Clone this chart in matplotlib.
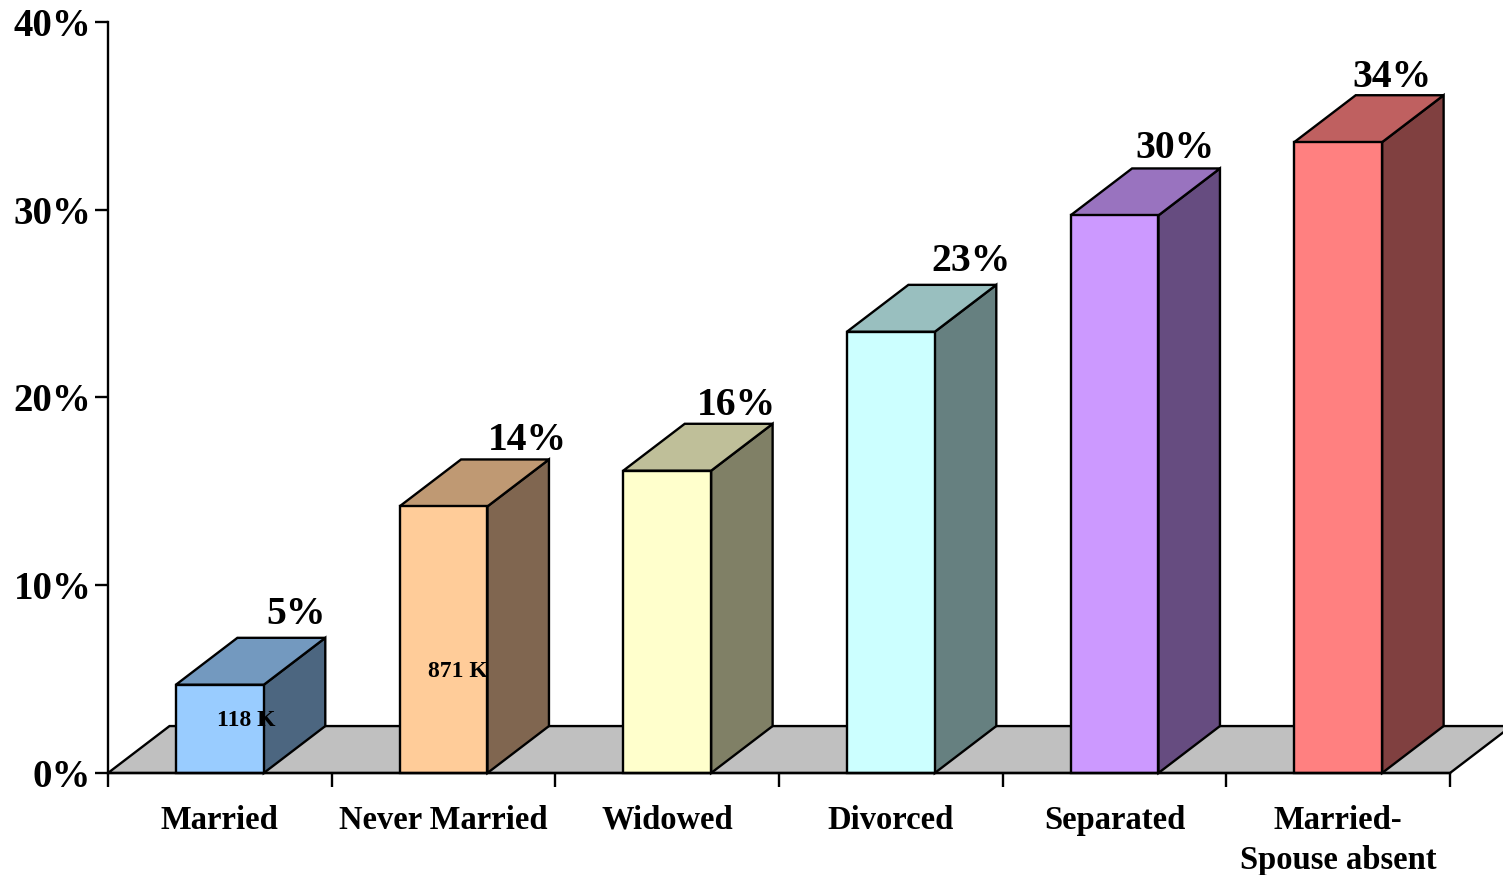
import matplotlib
matplotlib.use("Agg")
import matplotlib.pyplot as plt
from matplotlib.patches import Polygon, Rectangle

categories = ["Married", "Never Married", "Widowed", "Divorced", "Separated", "Married-\nSpouse absent"]
values = [4.7, 14.2, 16.1, 23.5, 29.7, 33.6]
value_labels = ["5%", "14%", "16%", "23%", "30%", "34%"]
inner_labels = ["118 K", "871 K"]
front_colors = ["#99CCFF", "#FFCC99", "#FFFFCC", "#CCFFFF", "#CC99FF", "#FF8080"]
top_colors = ["#7399BF", "#BF9973", "#BFBF99", "#99BFBF", "#9973BF", "#BF6060"]
side_colors = ["#4C6680", "#806650", "#808066", "#668080", "#664C80", "#804040"]
yticks = [0, 10, 20, 30, 40]

plt.rcParams["font.family"] = ["Liberation Serif", "DejaVu Serif"]
plt.rcParams["font.weight"] = "bold"

fig = plt.figure(figsize=(15.03, 8.75), dpi=100)
ax = fig.add_axes([108/1503, 102/875, 1342/1503, 751/875])
ax.set_xlim(-0.5, len(categories) - 0.5)
ax.set_ylim(0, 40)

dx = 0.275   # depth offset in category units
dy = 2.5     # depth offset in percent
w = 0.393    # bar front width
lw = 1.7

# label placement (how Excel scattered them)
lab_dx = [0.34, 0.375, 0.31, 0.36, 0.27, 0.24]
lab_dy = [1.25, 1.0, 1.0, 1.25, 1.05, 0.95]

# floor
n = len(categories)
floor = Polygon([(-0.5, 0), (n - 0.5, 0), (n - 0.5 + dx, dy), (-0.5 + dx, dy)],
                closed=True, facecolor="#C0C0C0", edgecolor="black", lw=lw,
                clip_on=False, zorder=1)
ax.add_patch(floor)

for i, v in enumerate(values):
    l, r = i - w/2, i + w/2
    front = Rectangle((l, 0), w, v, facecolor=front_colors[i], edgecolor="black",
                      lw=lw, zorder=3, clip_on=False)
    top = Polygon([(l, v), (r, v), (r + dx, v + dy), (l + dx, v + dy)], closed=True,
                  facecolor=top_colors[i], edgecolor="black", lw=lw, zorder=2, clip_on=False)
    side = Polygon([(r, 0), (r + dx, dy), (r + dx, v + dy), (r, v)], closed=True,
                   facecolor=side_colors[i], edgecolor="black", lw=lw, zorder=2, clip_on=False)
    ax.add_patch(side)
    ax.add_patch(top)
    ax.add_patch(front)
    ax.text(i + lab_dx[i], v + dy + lab_dy[i], value_labels[i], ha="center", va="center",
            fontsize=28.5, fontweight="bold", zorder=5)

# small count labels inside first two bars
inner_y = [2.8, 5.4]
inner_dx = [0.12, 0.065]
for i, t in enumerate(inner_labels):
    ax.text(i + inner_dx[i], inner_y[i], t, ha="center", va="center",
            fontsize=17, fontweight="bold", zorder=6)

for s in ["top", "right"]:
    ax.spines[s].set_visible(False)
for s in ["left", "bottom"]:
    ax.spines[s].set_linewidth(lw)
    ax.spines[s].set_zorder(4)

ax.set_yticks(yticks)
ax.set_yticklabels([f"{t}%" for t in yticks], fontsize=28, fontweight="bold")
ax.tick_params(axis="y", length=9.5, width=lw, pad=2.5)

ax.set_xticks(range(n))
ax.set_xticklabels(categories, fontsize=23.5, fontweight="bold", linespacing=1.38)
ax.set_xticks([i - 0.5 for i in range(n + 1)], minor=True)
ax.tick_params(axis="x", which="major", length=0, pad=23)
ax.tick_params(axis="x", which="minor", length=10, width=lw)

fig.savefig("out.png", dpi=100)
